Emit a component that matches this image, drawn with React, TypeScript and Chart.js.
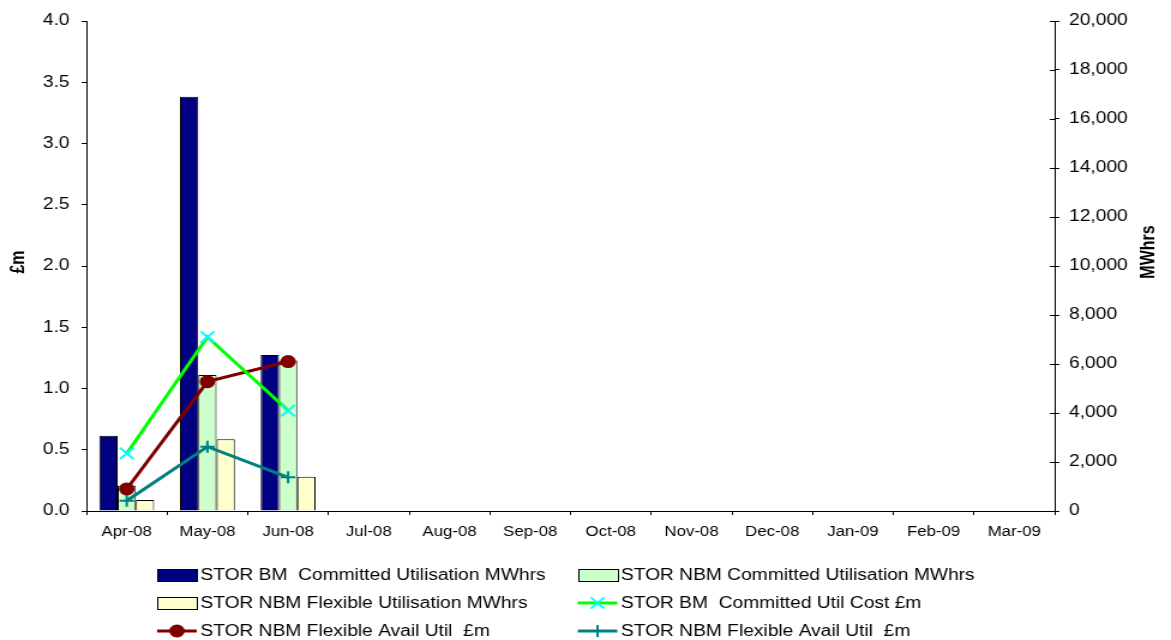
import React, { useEffect, useRef } from "react";
import { Chart, registerables } from "chart.js";

Chart.register(...registerables);

const categories = ["Apr-08", "May-08", "Jun-08", "Jul-08", "Aug-08", "Sep-08", "Oct-08", "Nov-08", "Dec-08", "Jan-09", "Feb-09", "Mar-09"];

// Bars (right axis, MWhrs)
const bmCommittedMWh = [3070, 16910, 6370, null, null, null, null, null, null, null, null, null];
const nbmCommittedMWh = [1030, 5550, 6140, null, null, null, null, null, null, null, null, null];
const nbmFlexibleMWh = [450, 2930, 1400, null, null, null, null, null, null, null, null, null];

// Lines (left axis, £m)
const bmCommittedCost = [0.47, 1.42, 0.82, null, null, null, null, null, null, null, null, null];
const nbmFlexAvailUtilA = [0.18, 1.056, 1.22, null, null, null, null, null, null, null, null, null];
const nbmFlexAvailUtilB = [0.084, 0.525, 0.275, null, null, null, null, null, null, null, null, null];

const seriesNames = [
  "STOR BM  Committed Utilisation MWhrs",
  "STOR NBM Committed Utilisation MWhrs",
  "STOR NBM Flexible Utilisation MWhrs",
  "STOR BM  Committed Util Cost £m",
  "STOR NBM Flexible Avail Util  £m",
  "STOR NBM Flexible Avail Util  £m",
];

const leftTitle = "£m";
const rightTitle = "MWhrs";

const FONT = "'Liberation Sans', Arial, sans-serif";
const W = 976;
const H = 640;

function drawMarker(ctx: CanvasRenderingContext2D, style: string, x: number, y: number, r: number, fill: string, stroke: string) {
  ctx.save();
  ctx.lineWidth = 2;
  ctx.strokeStyle = stroke;
  ctx.fillStyle = fill;
  ctx.beginPath();
  if (style === "circle") {
    ctx.arc(x, y, r, 0, Math.PI * 2);
    ctx.fill();
    ctx.stroke();
  } else if (style === "cross") {
    ctx.moveTo(x - r, y);
    ctx.lineTo(x + r, y);
    ctx.moveTo(x, y - r);
    ctx.lineTo(x, y + r);
    ctx.stroke();
  } else if (style === "crossRot") {
    const d = r * Math.SQRT1_2;
    ctx.moveTo(x - d, y - d);
    ctx.lineTo(x + d, y + d);
    ctx.moveTo(x - d, y + d);
    ctx.lineTo(x + d, y - d);
    ctx.stroke();
  }
  ctx.restore();
}

const decorPlugin = {
  id: "decor",
  afterDraw(chart: any) {
    const ctx: CanvasRenderingContext2D = chart.ctx;
    ctx.save();
    // inner tick marks on right axis
    const y1 = chart.scales.y1;
    ctx.strokeStyle = "#000";
    ctx.lineWidth = 1;
    y1.ticks.forEach((_t: any, i: number) => {
      const py = Math.round(y1.getPixelForTick(i)) + 0.5;
      ctx.beginPath();
      ctx.moveTo(y1.left - 4, py);
      ctx.lineTo(y1.left, py);
      ctx.stroke();
    });

    // axis titles (both reading upwards)
    ctx.fillStyle = "#000";
    ctx.font = `bold 16px ${FONT}`;
    ctx.textAlign = "center";
    ctx.textBaseline = "middle";
    ctx.save();
    ctx.translate(15.5, 262);
    ctx.rotate(-Math.PI / 2);
    ctx.fillText(leftTitle, 0, 0);
    ctx.restore();
    ctx.save();
    ctx.translate(957.5, 252);
    ctx.rotate(-Math.PI / 2);
    ctx.fillText(rightTitle, 0, 0);
    ctx.restore();

    // legend
    const ds = chart.data.datasets;
    const cols = [131, 481.5];
    const rows = [575, 603, 631];
    const boxW = 33;
    const boxH = 12;
    ctx.font = `16px ${FONT}`;
    ctx.textAlign = "left";
    ctx.textBaseline = "middle";
    for (let i = 0; i < ds.length; i++) {
      const d = ds[i];
      const x = cols[i % 2];
      const y = rows[Math.floor(i / 2)];
      if (d.type === "bar") {
        ctx.fillStyle = d.backgroundColor;
        ctx.fillRect(x, y - boxH / 2, boxW, boxH);
        ctx.strokeStyle = "#000";
        ctx.lineWidth = 1;
        ctx.strokeRect(Math.round(x) + 0.5, Math.round(y - boxH / 2) + 0.5, boxW, boxH);
      } else {
        ctx.strokeStyle = d.borderColor;
        ctx.lineWidth = 3;
        ctx.beginPath();
        ctx.moveTo(x, y);
        ctx.lineTo(x + boxW, y);
        ctx.stroke();
        drawMarker(ctx, d.pointStyle, x + boxW / 2, y, d.pointRadius, d.pointBackgroundColor, d.pointBorderColor);
      }
      ctx.fillStyle = "#000";
      ctx.fillText(d.label, x + boxW + 3, y + 1);
    }
    ctx.restore();
  },
};

export default function App() {
  const ref = useRef<HTMLCanvasElement | null>(null);

  useEffect(() => {
    if (!ref.current) return;
    const barCommon = {
      type: "bar" as const,
      yAxisID: "y1",
      borderColor: "#000000",
      borderWidth: 1,
      order: 2,
      categoryPercentage: 0.68,
      barPercentage: 1.0,
    };
    const lineCommon = {
      type: "line" as const,
      yAxisID: "y",
      borderWidth: 3,
      order: 1,
      spanGaps: false,
      pointBorderWidth: 2,
      tension: 0,
    };
    const chart = new Chart(ref.current, {
      data: {
        labels: categories,
        datasets: [
          { ...barCommon, label: seriesNames[0], data: bmCommittedMWh, backgroundColor: "#000080" },
          { ...barCommon, label: seriesNames[1], data: nbmCommittedMWh, backgroundColor: "#CCFFCC" },
          { ...barCommon, label: seriesNames[2], data: nbmFlexibleMWh, backgroundColor: "#FFFFCC" },
          {
            ...lineCommon,
            label: seriesNames[3],
            data: bmCommittedCost,
            borderColor: "#00FF00",
            pointStyle: "crossRot",
            pointRadius: 8,
            pointBackgroundColor: "#00FFFF",
            pointBorderColor: "#00FFFF",
          },
          {
            ...lineCommon,
            label: seriesNames[4],
            data: nbmFlexAvailUtilA,
            borderColor: "#800000",
            pointStyle: "circle",
            pointRadius: 5.5,
            pointBackgroundColor: "#800000",
            pointBorderColor: "#800000",
          },
          {
            ...lineCommon,
            label: seriesNames[5],
            data: nbmFlexAvailUtilB,
            borderColor: "#008080",
            pointStyle: "cross",
            pointRadius: 6,
            pointBackgroundColor: "#008080",
            pointBorderColor: "#008080",
          },
        ],
      } as any,
      options: {
        animation: false,
        responsive: false,
        devicePixelRatio: 1,
        layout: { padding: { top: 21, left: 0, right: 0, bottom: 0 } },
        plugins: { legend: { display: false }, tooltip: { enabled: false } },
        scales: {
          x: {
            type: "category",
            offset: true,
            grid: { display: true, offset: true, drawOnChartArea: false, tickLength: 4, color: "#000" },
            border: { display: true, color: "#000", width: 1 },
            ticks: { color: "#000", font: { family: FONT, size: 14 }, padding: 9, maxRotation: 0, autoSkip: false },
            afterFit: (s: any) => { s.height = 129; },
          },
          y: {
            type: "linear",
            position: "left",
            min: 0,
            max: 4,
            ticks: { stepSize: 0.5, color: "#000", font: { family: FONT, size: 16 }, padding: 10, callback: (v: any) => Number(v).toFixed(1) },
            grid: { drawOnChartArea: false, tickLength: 4, color: "#000" },
            border: { display: true, color: "#000", width: 1 },
            afterFit: (s: any) => { s.width = 72; },
          },
          y1: {
            type: "linear",
            position: "right",
            min: 0,
            max: 20000,
            ticks: { stepSize: 2000, color: "#000", font: { family: FONT, size: 16 }, padding: 8, callback: (v: any) => Number(v).toLocaleString("en-US") },
            grid: { drawOnChartArea: false, tickLength: 4, color: "#000" },
            border: { display: true, color: "#000", width: 1 },
            afterFit: (s: any) => { s.width = 97; },
          },
        },
      } as any,
      plugins: [decorPlugin],
    });
    return () => chart.destroy();
  }, []);

  return (
    <div style={{ position: "absolute", left: 0, top: 0, width: 1171, height: 640, background: "#fff" }}>
      <canvas ref={ref} width={W} height={H} style={{ width: "1171px", height: "640px", display: "block" }} />
    </div>
  );
}
